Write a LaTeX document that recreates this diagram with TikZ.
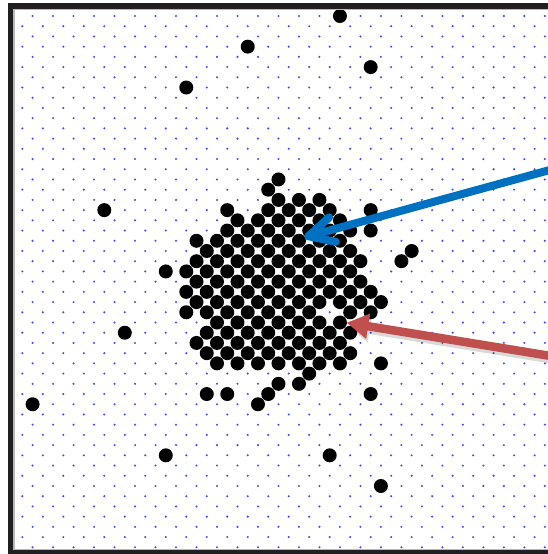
\documentclass[tikz,border=0pt]{standalone}
\usetikzlibrary{calc,arrows.meta}
\definecolor{framecol}{HTML}{231F20}
\definecolor{gridblue}{RGB}{70,70,250}
\definecolor{arrowblue}{HTML}{0070C0}
\definecolor{arrowred}{HTML}{C0504D}
\begin{document}
\begin{tikzpicture}[x=1pt,y=-1pt,
  gdot/.style={fill=gridblue},
  bdot/.style={fill=black},
  bluearrow/.style={draw=arrowblue,line width=8pt,line cap=round,line join=round},
  redarrow/.style={draw=arrowred,fill=arrowred,line width=8.5pt},
  redshadow/.style={draw=black,fill=black,line width=8.5pt},
  frameline/.style={draw=framecol,line width=5.5pt},
  frameinner/.style={draw=gray!55,line width=1.2pt}]
\useasboundingbox (0,0) rectangle (548,554);
\clip (0,0) rectangle (548,554);
\fill[white] (0,0) rectangle (548,554);
% background lattice of small blue dots
\foreach \r in {0,...,52} {
  \foreach \k in {0,...,25} {
    \pgfmathsetmacro{\xx}{22.35+10.245*(2*\k+mod(\r+1,2))}
    \fill[gdot] (\xx,16+10.217*\r) circle[radius=1.15pt];
  }
}
% cluster and scattered black dots (column c, row r on the lattice)
\foreach \r/\cl in {
  0/{31}, 3/{22}, 5/{34}, 7/{16},
  16/{25}, 17/{24}, 18/{25,27,29},
  19/{8,20,24,26,28,30,34},
  20/{21,23,...,31},
  21/{20,22,...,34},
  22/{17,19,...,31},
  23/{18,20,...,32,38},
  24/{17,19,...,33,37},
  25/{14,16,18,...,32},
  26/{17,19,...,33},
  27/{16,18,...,34},
  28/{17,19,...,35},
  29/{16,18,...,28,32,34},
  30/{19,21,...,31},
  31/{10,18,20,...,32},
  32/{17,19,...,31},
  33/{18,20,...,32},
  34/{19,21,...,31,35},
  35/{28}, 36/{25,27}, 37/{18,20,24,34}, 38/{1,23},
  43/{14,30}, 46/{35}} {
  \foreach \c in \cl {
    \fill[bdot] (22.35+10.245*\c,16+10.217*\r) circle[radius=7pt];
  }
}
% red arrow with soft shadow
\coordinate (rtip) at (346.5,322.7);
\coordinate (rtail) at (560,357.5);
\coordinate (stip) at ($(rtip)+(1.5,3.5)$);
\coordinate (stail) at ($(rtail)+(1.5,3.5)$);
\begin{scope}[transparency group,opacity=0.15]
  \draw[redshadow,-{Triangle[length=22pt,width=24pt]}] (stail) -- (stip);
\end{scope}
\draw[redarrow,-{Triangle[length=22pt,width=24pt]}] (rtail) -- (rtip);
% blue arrow with open barbed head
\coordinate (btip) at (308.5,236.2);
\coordinate (btail) at (560,167.2);
\draw[bluearrow] (btail) -- (btip);
\draw[bluearrow] ($(btip)!28pt!27:(btail)$) -- (btip) -- ($(btip)!28pt!-27:(btail)$);
% frame (open on the right)
\draw[frameinner] (560,9.5) -- (13.9,9.5) -- (13.9,549.8) -- (560,549.8);
\draw[frameline] (560,6.2) -- (10.4,6.2) -- (10.4,553.2) -- (560,553.2);
\end{tikzpicture}
\end{document}
